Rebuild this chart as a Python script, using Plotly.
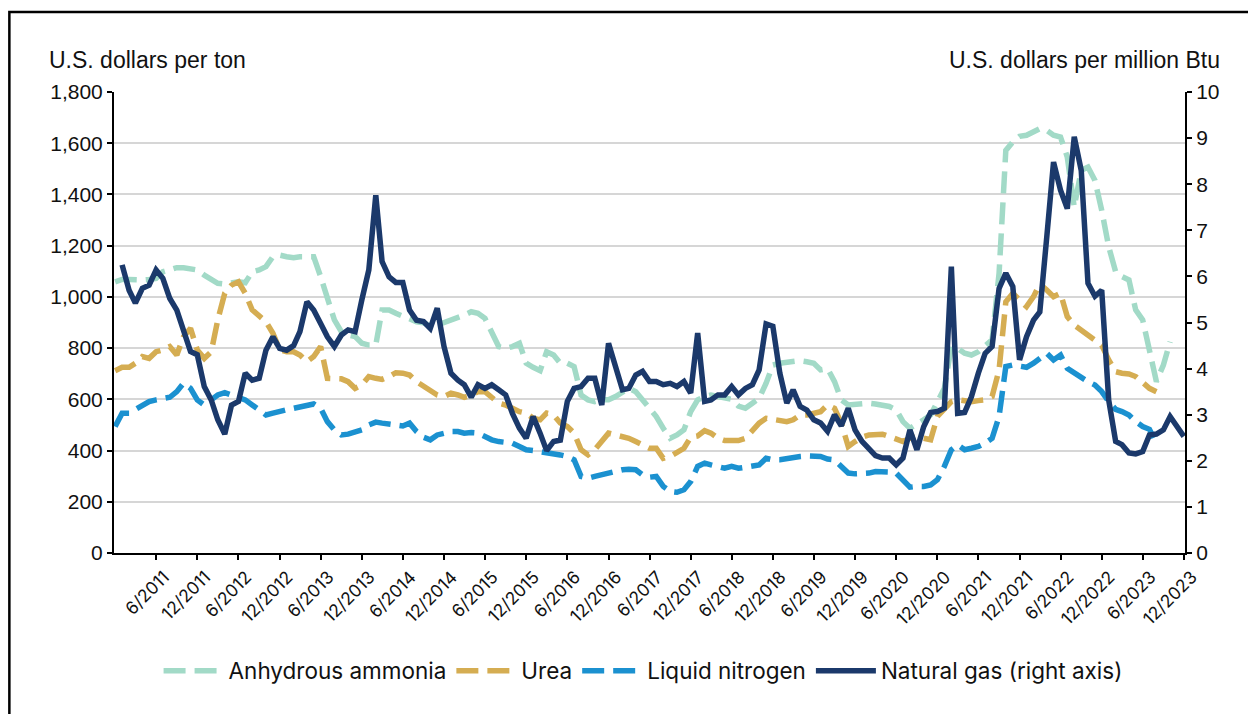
import pandas as pd
import plotly.graph_objs as go

# monthly points, 12/2010 .. 12/2023
months = pd.date_range("2010-12-01", periods=157, freq="MS")

ammonia = [
  1059, 1068, 1068, 1066, 1066, 1068, 1072, 1098, 1105, 1114, 1114, 1111, 1105,
  1085, 1066, 1053, 1050, 1055, 1059, 1055, 1098, 1105, 1118, 1157, 1163,
  1157, 1153, 1157, 1159, 1157, 1079, 988, 910, 864, 851, 845, 819,
  812, 812, 949, 949, 936, 923, 916, 903, 899, 886, 890, 899,
  910, 920, 929, 942, 936, 916, 858, 806, 799, 806, 819, 741,
  725, 712, 786, 773, 741, 741, 728, 617, 598, 591, 598, 598,
  611, 630, 643, 630, 598, 559, 533, 487, 448, 461, 481, 552,
  598, 611, 617, 611, 604, 600, 574, 565, 585, 604, 663, 734,
  741, 743, 747, 751, 747, 741, 715, 720, 669, 598, 578, 582,
  585, 585, 582, 578, 572, 559, 513, 487, 507, 520, 539, 585,
  643, 806, 799, 780, 773, 786, 812, 832, 1092, 1572, 1605, 1627,
  1631, 1644, 1657, 1650, 1631, 1624, 1546, 1351, 1494, 1507, 1455, 1338,
  1196, 1098, 1079, 1066, 949, 910, 780, 669, 734, 825,
  None, None,
]

urea = [
  712, 725, 725, 741, 767, 760, 786, 793, 806, 773, 845, 877, 793,
  760, 786, 910, 1014, 1046, 1059, 1014, 949, 923, 903, 858, 793,
  786, 786, 773, 747, 767, 806, 682, 682, 680, 669, 643, 656,
  689, 682, 678, 689, 704, 702, 695, 669, 650, 630, 617, 611,
  624, 617, 608, 615, 630, 630, 611, 585, 578, 565, 552, 546,
  526, 520, 546, 539, 507, 494, 468, 403, 383, 403, 435, 468,
  461, 457, 448, 435, 422, 409, 409, 370, 377, 392, 409, 452,
  457, 478, 468, 448, 439, 439, 439, 448, 481, 507, 526, 522,
  513, 513, 520, 539, 539, 546, 552, 578, 565, 507, 416, 435,
  452, 461, 465, 464, 455, 442, 435, 448, 455, 448, 442, 533,
  565, 591, 598, 595, 591, 595, 598, 611, 715, 981, 1014, 988,
  962, 1001, 1050, 1027, 1001, 1014, 923, 890, 871, 851, 834, 812,
  754, 708, 702, 699, 689, 663, 643, 630,
  None, None, None, None,
]

liquid_nitrogen = [
  494, 546, 546, 559, 578, 591, 598, 604, 608, 630, 663, 643, 598,
  578, 598, 617, 626, 617, 604, 598, 578, 559, 539, 546, 555,
  559, 565, 572, 578, 582, 565, 513, 481, 461, 464, 470, 481,
  500, 511, 507, 503, 500, 496, 507, 474, 452, 442, 461, 470,
  474, 474, 468, 470, 468, 455, 442, 435, 431, 429, 416, 403,
  400, 396, 396, 390, 383, 377, 364, 299, 292, 299, 305, 314,
  322, 325, 327, 325, 305, 296, 299, 260, 240, 237, 247, 279,
  338, 351, 344, 335, 331, 338, 331, 335, 338, 344, 370, 364,
  364, 370, 374, 377, 379, 379, 377, 367, 364, 338, 312, 309,
  309, 312, 318, 318, 316, 312, 286, 257, 260, 260, 266, 286,
  338, 403, 422, 403, 409, 416, 429, 448, 533, 728, 734, 732,
  725, 741, 760, 780, 754, 773, 721, 702, 682, 669, 656, 630,
  591, 561, 552, 539, 513, 494, 483, 429,
  None, None, None, None,
]

natural_gas = [
  None,
  6.25, 5.70, 5.42, 5.74, 5.81, 6.14, 5.96, 5.52, 5.27, 4.80, 4.37, 4.30,
  3.61, 3.32, 2.89, 2.58, 3.21, 3.29, 3.90, 3.75, 3.79, 4.40, 4.69, 4.44,
  4.40, 4.50, 4.80, 5.45, 5.27, 4.98, 4.69, 4.48, 4.73, 4.84, 4.80, 5.49,
  6.14, 7.76, 6.32, 5.99, 5.87, 5.87, 5.27, 5.05, 5.02, 4.87, 5.31, 4.48,
  3.90, 3.75, 3.65, 3.38, 3.65, 3.57, 3.65, 3.54, 3.43, 3.03, 2.71, 2.49,
  2.96, 2.60, 2.22, 2.42, 2.45, 3.29, 3.57, 3.61, 3.79, 3.79, 3.21, 4.55,
  4.04, 3.54, 3.57, 3.86, 3.94, 3.72, 3.72, 3.65, 3.68, 3.61, 3.72, 3.47,
  4.77, 3.29, 3.32, 3.43, 3.43, 3.61, 3.43, 3.57, 3.65, 3.97, 4.97, 4.92,
  3.90, 3.25, 3.54, 3.18, 3.10, 2.89, 2.82, 2.64, 3.00, 2.76, 3.14, 2.67,
  2.42, 2.24, 2.11, 2.06, 2.06, 1.91, 2.06, 2.67, 2.24, 2.74, 3.05, 3.07,
  3.14, 6.21, 3.03, 3.05, 3.39, 3.90, 4.33, 4.48, 5.74, 6.07, 5.78, 4.19,
  4.69, 5.05, 5.23, 6.86, 8.48, 7.87, 7.47, 9.03, 8.30, 5.85, 5.57, 5.70,
  3.32, 2.42, 2.35, 2.17, 2.15, 2.20, 2.56, 2.58, 2.67, 2.96, 2.74, 2.53,
]

tick_months = [m for m in months if m.month in (6, 12) and m.year >= 2011]
tick_labels = [f"{m.month}/{m.year}" for m in tick_months]

NUM_FONT = "Liberation Sans, Arial, sans-serif"
TXT_FONT = "Inter, Liberation Sans, sans-serif"
DASH = "22px,9px"

fig = go.Figure()

fig.add_scatter(x=months, y=ammonia, name="Anhydrous ammonia", mode="lines",
  line=dict(color="#A2DAC7", width=5.5, dash=DASH))
fig.add_scatter(x=months, y=urea, name="Urea", mode="lines",
  line=dict(color="#D5AD52", width=5.5, dash=DASH))
fig.add_scatter(x=months, y=liquid_nitrogen, name="Liquid nitrogen", mode="lines",
  line=dict(color="#1B91D0", width=5.5, dash=DASH))
fig.add_scatter(x=months, y=natural_gas, name="Natural gas (right axis)", mode="lines",
  yaxis="y2", line=dict(color="#1B396B", width=5.5))

fig.layout = go.Layout(
  template="none",
  width=1248,
  height=714,
  margin=dict(l=114, r=63, t=92, b=161),
  plot_bgcolor="white",
  paper_bgcolor="white",
  font=dict(family=NUM_FONT, color="#111111", size=21),
  xaxis=dict(
    range=["2010-11-26", "2023-12-06"],
    tickvals=tick_months,
    ticktext=tick_labels,
    tickangle=-45,
    ticklabelshift=8,
    tickfont=dict(family=TXT_FONT, size=17.5),
    ticks="outside", ticklen=5, tickwidth=2, tickcolor="black",
    showline=True, linecolor="black", linewidth=2,
    showgrid=False, zeroline=False,
  ),
  yaxis=dict(
    range=[0, 1800], dtick=200, tickformat=",",
    ticks="outside", ticklen=5, tickwidth=2, tickcolor="black",
    showline=True, linecolor="black", linewidth=2,
    showgrid=True, gridcolor="#d6d6d6", gridwidth=1.5,
    zeroline=False, tickfont=dict(size=21),
  ),
  yaxis2=dict(
    range=[0, 10], dtick=1, overlaying="y", side="right",
    ticks="outside", ticklen=5, tickwidth=2, tickcolor="black",
    showline=True, linecolor="black", linewidth=2,
    showgrid=False, zeroline=False, tickfont=dict(size=21),
  ),
  legend=dict(
    orientation="h", x=0.494, xanchor="center", y=-0.256, yanchor="middle",
    font=dict(family=TXT_FONT, size=22.5), itemwidth=60,
    bgcolor="rgba(0,0,0,0)",
  ),
  showlegend=True,
  annotations=[
    dict(text="U.S. dollars per ton", xref="paper", yref="paper",
      x=-0.0626, y=1.069, xanchor="left", yanchor="middle", showarrow=False,
      font=dict(size=23)),
    dict(text="U.S. dollars per million Btu", xref="paper", yref="paper",
      x=1.0345, y=1.069, xanchor="right", yanchor="middle", showarrow=False,
      font=dict(size=23)),
  ],
  shapes=[
    dict(type="rect", xref="paper", yref="paper", x0=-0.0977, x1=1.3,
      y0=-0.6, y1=1.1735, line=dict(color="black", width=2.5)),
  ],
)

fig.write_html("out.html", config={"displayModeBar": False},
  post_script="document.body.style.margin='0';")
